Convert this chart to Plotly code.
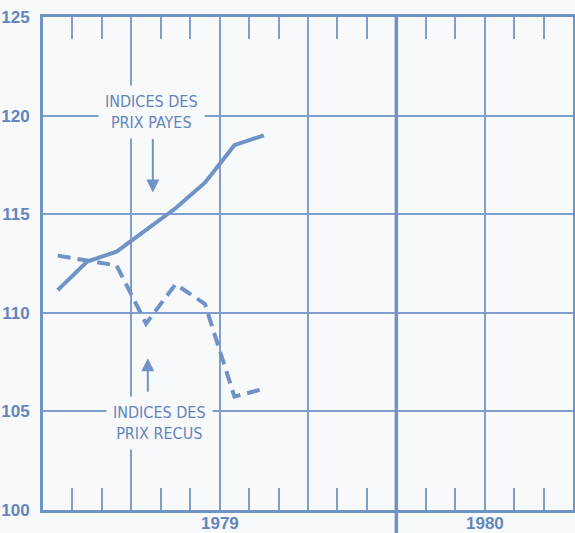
import plotly.graph_objects as go

# Data (1979, monthly)
months = ["Jan", "Fév", "Mar", "Avr", "Mai", "Juin", "Juil", "Août"]
prix_payes = [111.15, 112.6, 113.1, 114.2, 115.3, 116.6, 118.5, 119.0]
prix_recus = [112.9, 112.65, 112.4, 109.45, 111.45, 110.45, 105.75, 106.15]
y_ticks = [100, 105, 110, 115, 120, 125]
year_labels = ["1979", "1980"]

# month positions: centre of each month, month 0 = January 1979
xpos = [i + 0.5 for i in range(len(months))]

LINE = "#7093c6"
GRID = "#7f9ece"
TEXT = "#6385bc"
BG = "#f8f9fb"
BOLD = "Liberation Sans, Arial, sans-serif"
COND = "DejaVu Sans Condensed, DejaVu Sans, sans-serif"

fig = go.Figure()
fig.add_trace(go.Scatter(x=xpos, y=prix_payes, mode="lines",
                         line=dict(color=LINE, width=4), name="Indices des prix payés"))
fig.add_trace(go.Scatter(x=xpos, y=prix_recus, mode="lines",
                         line=dict(color=LINE, width=4, dash="13px,7px"),
                         name="Indices des prix reçus"))

month_ticks = [m for m in range(1, 18) if m % 3 != 0]
quarter_lines = [m for m in range(3, 18, 3) if m != 12]

fig.update_layout(
    width=575, height=533,
    margin=dict(l=43, r=2, t=17, b=23),
    paper_bgcolor=BG, plot_bgcolor=BG,
    showlegend=False,
    xaxis=dict(
        range=[0, 18], showline=True, linecolor=LINE, linewidth=3, mirror="ticks",
        tickmode="array", tickvals=month_ticks, ticks="inside", ticklen=22,
        tickwidth=1.5, tickcolor=GRID, showticklabels=False, showgrid=False,
        zeroline=False,
        minor=dict(tickmode="array", tickvals=quarter_lines, showgrid=True,
                   gridcolor=GRID, gridwidth=1.6, ticks=""),
    ),
    yaxis=dict(
        range=[100, 125], tickmode="array", tickvals=y_ticks,
        showline=True, linecolor=LINE, linewidth=3, mirror=True,
        showgrid=True, gridcolor=GRID, gridwidth=1.5, zeroline=False,
        ticks="", ticklabelstandoff=7, automargin=False,
        tickfont=dict(family=BOLD, size=17, color=TEXT, weight="bold"),
    ),
)

# year boundary line (Jan 1980), extending below the axis
fig.add_shape(type="line", xref="x", yref="paper", x0=12, x1=12, y0=-0.05, y1=1,
              line=dict(color=LINE, width=3.5), layer="above")

# year labels
for xv, lab in zip([6, 15], year_labels):
    fig.add_annotation(x=xv, y=-0.027, xref="x", yref="paper", text=lab,
                       showarrow=False, yanchor="middle",
                       font=dict(family=BOLD, size=17, color=TEXT, weight="bold"))

lab_font = dict(family=COND, size=16, color=TEXT)
fig.add_annotation(x=3.7, y=120.2, text="INDICES DES<br>PRIX PAYES", showarrow=False,
                   font=lab_font, bgcolor=BG, borderpad=6)
fig.add_annotation(x=3.73, y=116.1, ax=0, ay=-55, text="", showarrow=True,
                   arrowhead=2, arrowsize=1.3, arrowwidth=2, arrowcolor=LINE)
fig.add_annotation(x=3.97, y=104.4, text="INDICES DES<br>PRIX RECUS", showarrow=False,
                   font=lab_font, bgcolor=BG, borderpad=6)
fig.add_annotation(x=3.56, y=107.7, ax=0, ay=35, text="", showarrow=True,
                   arrowhead=2, arrowsize=1.3, arrowwidth=2, arrowcolor=LINE)

fig.write_html("out.html", config={"displayModeBar": False},
               post_script="document.body.style.margin='0';document.body.style.background='" + BG + "';")
